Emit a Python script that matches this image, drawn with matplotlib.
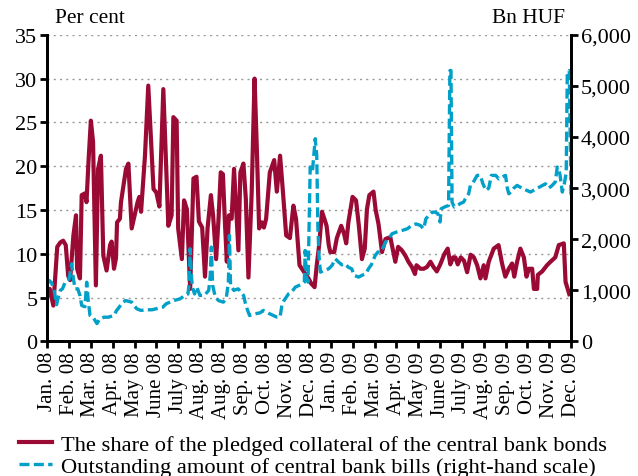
import matplotlib.pyplot as plt
from matplotlib.ticker import FuncFormatter

plt.rcParams['font.family'] = ['Liberation Serif', 'DejaVu Serif']

# x position in months from Jan. 08 (0) to Dec. 09 (24)
month_labels = ['Jan. 08', 'Feb. 08', 'Mar. 08', 'Apr. 08', 'May 08', 'June 08',
                'July 08', 'Aug. 08', 'Aug. 08', 'Sep. 08', 'Oct. 08', 'Nov. 08',
                'Dec. 08', 'Jan. 09', 'Feb. 09', 'Mar. 09', 'Apr. 09', 'May 09',
                'June 09', 'July 09', 'Aug. 09', 'Sep. 09', 'Oct. 09', 'Nov. 09',
                'Dec. 09']

# share of pledged collateral (per cent)
share_t = [0.0, 0.12, 0.28, 0.46, 0.6, 0.73, 0.85, 0.96, 1.05, 1.2, 1.32, 1.37, 1.5,
           1.58, 1.73, 1.8, 1.9, 2.0, 2.1, 2.23, 2.33, 2.46, 2.57, 2.72, 2.88, 2.95,
           3.06, 3.15, 3.2, 3.33, 3.38, 3.61, 3.72, 3.87, 4.14, 4.22, 4.3, 4.48, 4.63,
           4.87, 5.0, 5.14, 5.32, 5.55, 5.7, 5.78, 5.93, 6.0, 6.17, 6.27, 6.4, 6.55,
           6.7, 6.84, 6.95, 7.1, 7.23, 7.35, 7.5, 7.6, 7.74, 7.85, 7.95, 8.05, 8.15,
           8.23, 8.33, 8.45, 8.56, 8.65, 8.76, 8.85, 8.99, 9.1, 9.22, 9.37, 9.5, 9.6,
           9.71, 9.83, 9.93, 10.03, 10.2, 10.4, 10.52, 10.67, 10.8, 10.95, 11.12,
           11.28, 11.4, 11.56, 11.75, 11.97, 12.1, 12.25, 12.35, 12.46, 12.59, 12.7,
           12.8, 12.9, 12.97, 13.15, 13.27, 13.47, 13.6, 13.7, 13.8, 13.99, 14.15,
           14.28, 14.42, 14.55, 14.65, 14.76, 14.95, 15.05, 15.18, 15.34, 15.5,
           15.72, 15.95, 16.08, 16.25, 16.41, 16.55, 16.71, 16.85, 16.92, 17.1,
           17.25, 17.4, 17.56, 17.7, 17.85, 18.01, 18.2, 18.35, 18.47, 18.6, 18.7,
           18.81, 18.95, 19.1, 19.24, 19.4, 19.55, 19.7, 19.85, 20.0, 20.08, 20.23,
           20.46, 20.68, 20.84, 20.99, 21.15, 21.3, 21.4, 21.53, 21.68, 21.84,
           21.96, 22.07, 22.22, 22.3, 22.45, 22.48, 22.68, 22.9, 23.06, 23.28,
           23.44, 23.67, 23.75, 23.85, 23.92]
share = [5.1, 6.0, 4.1, 10.8, 11.3, 11.5, 11.0, 7.5, 7.0, 12.1, 14.4, 8.3, 7.2,
         16.7, 16.9, 15.9, 20.9, 25.2, 22.8, 6.4, 19.7, 21.2, 9.8, 8.1, 11.0, 11.4,
         8.3, 9.5, 13.6, 14.0, 15.9, 19.7, 20.3, 12.9, 15.9, 16.5, 14.8, 21.2, 29.2,
         17.4, 17.0, 15.4, 28.8, 13.2, 14.4, 25.6, 25.2, 12.9, 9.4, 16.1, 15.1, 6.0,
         18.6, 18.8, 13.7, 13.0, 7.4, 13.0, 16.7, 14.4, 9.4, 14.0, 19.3, 19.1, 13.2,
         9.1, 14.4, 14.0, 19.7, 15.5, 10.4, 19.3, 20.3, 16.3, 7.3, 17.1, 30.0, 22.4,
         12.9, 13.6, 13.0, 14.0, 19.3, 20.7, 17.1, 21.2, 17.1, 12.1, 11.8,
         15.5, 14.0, 8.7, 8.0, 7.2, 6.6, 6.2, 8.7, 11.0, 14.8, 14.0,
         13.2, 11.0, 10.2, 10.2, 11.8, 13.2, 12.3, 11.2, 13.6, 16.5, 16.1,
         13.2, 9.4, 10.6, 15.1, 16.7, 17.1, 15.0, 13.4, 10.2, 11.7,
         11.9, 9.1, 10.8, 10.4, 9.8, 9.1, 8.5, 7.7, 8.7, 8.3,
         8.3, 8.5, 9.1, 8.5, 8.0, 8.8, 10.0, 10.6, 8.8, 9.6, 9.6,
         8.8, 9.6, 9.2, 7.9, 9.9, 9.6, 8.7, 7.2, 8.7, 7.2, 9.1,
         10.6, 11.0, 8.9, 7.4, 8.3, 8.9, 7.4, 9.1, 10.6, 9.6,
         7.4, 8.3, 8.3, 6.0, 6.0, 7.6, 8.0, 8.7, 9.1, 9.6,
         11.0, 11.2, 6.8, 6.0, 5.4]

# outstanding central bank bills (Bn HUF)
bills_t = [0.0, 0.1, 0.2, 0.33, 0.43, 0.5, 0.6, 0.7, 0.85, 1.0, 1.12, 1.2, 1.28, 1.4,
           1.5, 1.58, 1.73, 1.81, 1.88, 1.96, 2.1, 2.28, 2.4, 2.6, 2.8, 3.06, 3.18,
           3.3, 3.46, 3.6, 3.87, 4.1, 4.3, 4.48, 4.8, 5.0, 5.3, 5.45, 5.63, 5.8, 6.09,
           6.3, 6.45, 6.5, 6.55, 6.6, 6.65, 6.75, 6.85, 7.0, 7.2, 7.4, 7.47, 7.52,
           7.58, 7.7, 7.85, 8.07, 8.2, 8.3, 8.35, 8.4, 8.55, 8.75, 9.0, 9.1, 9.27,
           9.5, 9.75, 9.9, 10.2, 10.52, 10.67, 10.75, 10.85, 11.06, 11.2, 11.37,
           11.55, 11.7, 11.78, 11.82, 11.87, 11.95, 12.05, 12.15, 12.28, 12.35,
           12.4, 12.45, 12.52, 12.7, 12.9, 13.05, 13.2, 13.35, 13.5, 13.65, 13.8,
           13.95, 14.07, 14.27, 14.45, 14.6, 14.72, 14.85, 15.03, 15.15, 15.3,
           15.5, 15.65, 15.8, 16.0, 16.26, 16.5, 16.7, 16.9, 17.1, 17.25, 17.35,
           17.48, 17.64, 17.78, 17.9, 18.0, 18.05, 18.2, 18.39, 18.45, 18.5, 18.55,
           18.65, 18.8, 18.93, 19.08, 19.16, 19.31, 19.39, 19.5, 19.7, 19.85,
           19.95, 20.1, 20.23, 20.35, 20.55, 20.69, 20.85, 21.0, 21.08, 21.15,
           21.25, 21.38, 21.53, 21.75, 21.95, 22.14, 22.3, 22.55, 22.7, 22.83,
           22.98, 23.13, 23.28, 23.37, 23.45, 23.5, 23.6, 23.7, 23.78, 23.83,
           23.92, 23.96, 24.0]
bills = [1130, 1190, 1150, 970, 720, 850, 1000, 1030, 1190, 1220, 1520, 1220, 1030,
         1030, 900, 705, 680, 1160, 800, 510, 475, 350, 440, 475, 475, 510, 607,
         672, 770, 800, 770, 640, 607, 620, 620, 640, 672, 738, 770, 800, 835,
         900, 930, 1130, 1814, 1324, 1064, 930, 1064, 900, 900, 1000, 1290, 1847,
         1100, 870, 800, 770, 835, 1150, 2075, 1100, 1000, 1030, 900, 705, 509,
         540, 560, 607, 540, 477, 477, 705, 802, 933, 967, 1064,
         1100, 1129, 1160, 1780, 1290, 1160, 3413, 3320, 3967, 3640,
         2270, 1683, 1357, 1390, 1423, 1488, 1618, 1553, 1500, 1520, 1450,
         1423, 1292, 1260, 1300, 1324, 1423, 1500, 1683, 1750, 1750,
         1945, 2010, 2108, 2140, 2172, 2205, 2270, 2300, 2270, 2205, 2400,
         2466, 2530, 2530, 2500, 2337, 2595, 2630, 2661, 5300, 5300, 2725,
         2630, 2660, 2700, 2727, 2793, 2890, 3053, 3100, 3249, 3249,
         3100, 2955, 3000, 3249, 3249, 3180, 3220, 3249, 3000, 2890,
         2923, 3000, 3053, 3000, 2960, 2923, 2960, 3020, 3053, 3085,
         3000, 3050, 3119, 3413, 3350, 3249, 2923, 3100, 3300, 5272,
         5300, 4162, 2793]

red = '#9b0a35'
blue = '#00a0c8'

fig = plt.figure(figsize=(6.38, 4.77), dpi=100)
ax = fig.add_axes([0.074, 0.282, 0.821, 0.643])
ax2 = ax.twinx()

l1, = ax.plot(share_t, share, color=red, linewidth=3, solid_joinstyle='round',
              label='The share of the pledged collateral of the central bank bonds')
l2, = ax2.plot(bills_t, bills, color=blue, linewidth=2.4, linestyle=(0, (3, 1.3)),
               label='Outstanding amount of central bank bills (right-hand scale)')

ax.set_xlim(0, 24)
ax.set_ylim(0, 35)
ax2.set_ylim(0, 6000)
ax.set_yticks(range(0, 36, 5))
ax2.set_yticks(range(0, 6001, 1000))
ax2.yaxis.set_major_formatter(FuncFormatter(lambda v, p: f'{int(v):,}'))
ax.set_xticks(range(25))
ax.set_xticklabels(month_labels, rotation=90)

for a in (ax, ax2):
    a.spines['top'].set_visible(False)
    for s in ('left', 'right', 'bottom'):
        a.spines[s].set_linewidth(2)
    a.tick_params(direction='out', length=5, width=2, labelsize=16, pad=2)
ax.tick_params(axis='x', labelsize=15)
ax.grid(axis='y', linestyle=(0, (1.5, 3)), color='#999999', linewidth=1)
ax.set_axisbelow(True)

fig.text(0.086, 0.952, 'Per cent', fontsize=15.5)
fig.text(0.885, 0.952, 'Bn HUF', fontsize=15.5, ha='right')

fig.legend(handles=[l1, l2], loc='lower left', bbox_to_anchor=(0.015, -0.02),
           frameon=False, fontsize=16.2, handlelength=1.5, handletextpad=0.4,
           labelspacing=0.05, borderaxespad=0)

fig.savefig('out.png', dpi=100)
